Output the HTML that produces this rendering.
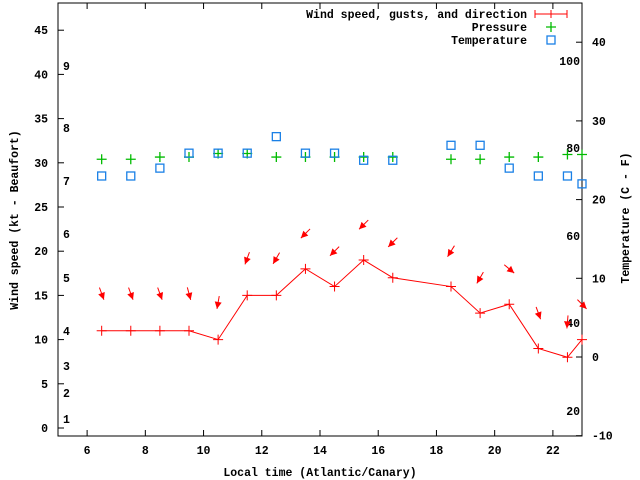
<!DOCTYPE html>
<html><head><meta charset="utf-8"><style>
html,body{margin:0;padding:0;background:#fff;}
svg{display:block;}
text{font-family:"Liberation Mono",monospace;font-weight:bold;font-size:11.5px;fill:#000;}
</style></head><body>
<svg id="chart" width="640" height="480" viewBox="0 0 640 480" xmlns="http://www.w3.org/2000/svg"></svg>
<script>
const times = [6.5,7.5,8.5,9.5,10.5,11.5,12.5,13.5,14.5,15.5,16.5,18.5,19.5,20.5,21.5,22.5,23];
const windSpeed = [11,11,11,11,10,15,15,18,16,19,17,16,13,14,9,8,10];
const gusts = [15.2,15.2,15.2,15.2,14.2,19.2,19.2,22,20,23,21,20,17,18,13,12,14];
const windDir = [340,340,340,345,10,20,30,45,45,45,45,32,30,310,340,5,315];
const pressure = [30.4,30.4,30.65,30.65,31.05,31.05,30.65,30.65,30.65,30.65,30.65,30.4,30.4,30.65,30.65,30.94,30.94];
const temperature = [23,23,24,25.9,25.9,25.9,28,25.9,25.9,25,25,26.9,26.9,24,23,23,22];
const xTicks = [6,8,10,12,14,16,18,20,22];
const yTicks = [0,5,10,15,20,25,30,35,40,45];
const y2Ticks = [-10,0,10,20,30,40];
const beaufortLabels = [[1,419],[2,393],[3,366],[4,331],[5,278],[6,234],[7,181],[8,128],[9,66]];
const fahrenheitLabels = [[20,411],[40,323],[60,236],[80,148],[100,61]];

const L=58,R=582,T=3,B=436;
const xs=v=>L+(v-5)/(23-5)*(R-L);
const ys=v=>428-v*8.84;
const y2s=v=>357-v*7.87;
const svg=document.getElementById('chart');
const NS='http://www.w3.org/2000/svg';
function mk(tag,attrs,parent){const e=document.createElementNS(NS,tag);for(const k in attrs)e.setAttribute(k,attrs[k]);(parent||svg).appendChild(e);return e;}

// frame
let fr=mk('rect',{x:L,y:T,width:R-L,height:B-T,fill:'none',stroke:'#000','stroke-width':1});



const xg=mk('g',{});


xTicks.forEach(t=>{const x=xs(t);
 mk('line',{x1:x,y1:B,x2:x,y2:B-6,stroke:'#000'},xg);
 mk('line',{x1:x,y1:T,x2:x,y2:T+6,stroke:'#000'},xg);
 const tx=mk('text',{x:x,y:B+18,'text-anchor':'middle'},xg);tx.textContent=t;
 
 
});
const yg=mk('g',{});


yTicks.forEach(t=>{const y=ys(t);
 mk('line',{x1:L,y1:y,x2:L+6,y2:y,stroke:'#000'},yg);
 const tx=mk('text',{x:L-10,y:y+4,'text-anchor':'end'},yg);tx.textContent=t;
 
 
});
const y2g=mk('g',{});


y2Ticks.forEach(t=>{const y=y2s(t);
 mk('line',{x1:R,y1:y,x2:R-6,y2:y,stroke:'#000'},y2g);
 const tx=mk('text',{x:R+10,y:y+4,'text-anchor':'start'},y2g);tx.textContent=t;
 
 
});
beaufortLabels.forEach(b=>{const tx=mk('text',{x:63,y:b[1]+4});tx.textContent=b[0];
 
 });
fahrenheitLabels.forEach(b=>{const tx=mk('text',{x:580,y:b[1]+4,'text-anchor':'end'});tx.textContent=b[0];
 
 });

// titles
let t1=mk('text',{x:320,y:476,'text-anchor':'middle'});t1.textContent='Local time (Atlantic/Canary)';


let t2=mk('text',{x:18,y:220,'text-anchor':'middle',transform:'rotate(-90 18 220)'});t2.textContent='Wind speed (kt - Beaufort)';


let t3=mk('text',{x:629,y:218,'text-anchor':'middle',transform:'rotate(-90 629 218)'});t3.textContent='Temperature (C - F)';



// wind line
const pts=times.map((t,i)=>xs(t)+','+ys(windSpeed[i])).join(' ');
let pl=mk('polyline',{points:pts,fill:'none',stroke:'#f00','stroke-width':1});


times.forEach((t,i)=>{const x=xs(t),y=ys(windSpeed[i]);
 const p=mk('path',{d:`M${x-5},${y}H${x+5}M${x},${y-5}V${y+5}`,stroke:'#f00'});
 
 
});
// arrows
times.forEach((t,i)=>{const cx=xs(t),cy=ys(gusts[i]);const a=windDir[i]*Math.PI/180;
 const ux=-Math.sin(a),uy=Math.cos(a),Lh=6.5;
 const x1=cx-ux*Lh,y1=cy-uy*Lh,x2=cx+ux*Lh,y2=cy+uy*Lh;
 const g=mk('g',{});
 
 
 mk('line',{x1:x1,y1:y1,x2:x2,y2:y2,stroke:'#f00'},g);
 const px=-uy,py=ux,h=7,w=3.5;
 const bx=x2-ux*h,by=y2-uy*h;
 mk('polygon',{points:`${x2},${y2} ${bx+px*w},${by+py*w} ${bx-px*w},${by-py*w}`,fill:'#f00'},g);
});
// pressure
times.forEach((t,i)=>{const x=xs(t),y=ys(pressure[i]);
 const p=mk('path',{d:`M${x-5},${y}H${x+5}M${x},${y-5}V${y+5}`,stroke:'#0b0','stroke-width':1.3});
 
 
});
// temperature
times.forEach((t,i)=>{const x=xs(t),y=y2s(temperature[i]);
 const r=mk('rect',{x:x-4,y:y-4,width:8,height:8,fill:'none',stroke:'#1a80e6','stroke-width':1.3});
 
 
});
// legend
const lg=mk('g',{});


const le1=mk('text',{x:527,y:18,'text-anchor':'end'},lg);le1.textContent='Wind speed, gusts, and direction';


mk('path',{d:'M535,14H567M535,10V18M567,10V18M551,10V18',stroke:'#f00'},lg);
const le2=mk('text',{x:527,y:31,'text-anchor':'end'},lg);le2.textContent='Pressure';


mk('path',{d:'M546,27H556M551,22V32',stroke:'#0b0','stroke-width':1.3},lg);
const le3=mk('text',{x:527,y:44,'text-anchor':'end'},lg);le3.textContent='Temperature';


mk('rect',{x:547,y:36,width:8,height:8,fill:'none',stroke:'#1a80e6','stroke-width':1.3},lg);
</script>
</body></html>
